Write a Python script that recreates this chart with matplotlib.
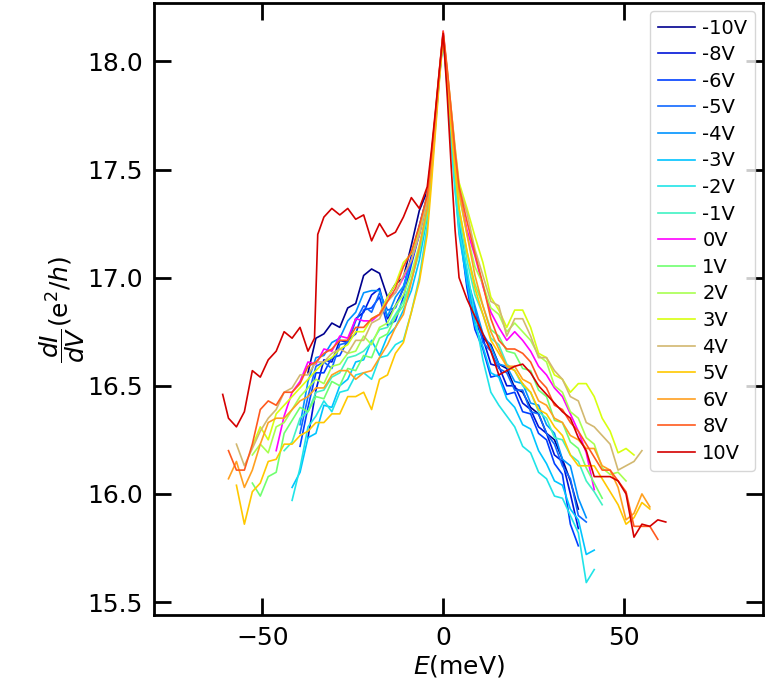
import numpy as np
import matplotlib
matplotlib.use("Agg")
import matplotlib.pyplot as plt

# shared energy grid (meV): coarse on the flanks, finer around the zero-bias peak
E_GRID = [-61.6, -59.4, -57.2, -55.0, -52.8, -50.6, -48.4, -46.2, -44.0, -41.8,
          -39.6, -37.4, -35.2, -33.0, -30.8, -28.6, -26.4, -24.2, -22.0, -19.8,
          -17.6, -15.4, -13.2, -11.0, -8.8, -6.6,
          -4.4, -3.3, -2.2, -1.1, 0.0, 1.1, 2.2, 3.3, 4.4,
          6.6, 8.8, 11.0, 13.2, 15.4, 17.6, 19.8, 22.0, 24.2, 26.4,
          28.6, 30.8, 33.0, 35.2, 37.4, 39.6, 41.8, 44.0, 46.2, 48.4,
          50.6, 52.8, 55.0, 57.2, 59.4, 61.6]

labels = ['-10V', '-8V', '-6V', '-5V', '-4V', '-3V', '-2V', '-1V', '0V',
          '1V', '2V', '3V', '4V', '5V', '6V', '8V', '10V']
colors = ['#00008f', '#0014d8', '#0040ff', '#1068ff', '#0094ff', '#00c4ff',
          '#20e4e8', '#40f2c4', '#ff00ff', '#70ff70', '#a8ff50', '#d8ff10',
          '#d2b870', '#ffc800', '#ffa020', '#ff5a1e', '#d40000']

# first energy of each trace (on E_GRID)
starts = [-37.4, -37.4, -39.6, -39.6, -39.6, -41.8, -41.8, -44.0, -46.2,
          -52.8, -52.8, -52.8, -57.2, -57.2, -59.4, -59.4, None]

g_m10 = [16.56, 16.72, 16.74, 16.79, 16.77, 16.86, 16.88, 17.01, 17.04, 17.02, 16.91, 16.97, 17.00, 17.15, 17.31,
         17.40, 17.55, 17.73, 17.93, 18.12, 17.92, 17.70, 17.48, 17.28,
         17.00, 16.85, 16.72, 16.69, 16.60, 16.58, 16.49, 16.47, 16.40, 16.37, 16.28, 16.25, 16.16, 16.06, 15.93]
g_m8 = [16.26, 16.48, 16.62, 16.61, 16.71, 16.70, 16.81, 16.84, 16.92, 16.95, 16.81, 16.87, 16.95, 17.10, 17.24,
        17.38, 17.54, 17.72, 17.93, 18.12, 17.92, 17.70, 17.47, 17.26,
        16.98, 16.80, 16.72, 16.60, 16.59, 16.50, 16.50, 16.42, 16.39, 16.31, 16.28, 16.18, 16.15, 16.00, 15.84]
g_m6 = [16.22, 16.40, 16.56, 16.56, 16.63, 16.64, 16.71, 16.74, 16.85, 16.86, 16.91, 16.78, 16.80, 16.91, 17.06, 17.20,
        17.35, 17.52, 17.72, 17.93, 18.12, 17.92, 17.70, 17.46, 17.24,
        16.95, 16.76, 16.67, 16.54, 16.55, 16.46, 16.47, 16.38, 16.37, 16.28, 16.25, 16.14, 16.09, 15.86, 15.76]
g_m5 = [16.28, 16.45, 16.59, 16.61, 16.58, 16.69, 16.70, 16.80, 16.87, 16.84, 16.93, 16.85, 16.86, 16.95, 17.08, 17.22,
        17.37, 17.53, 17.72, 17.93, 18.12, 17.92, 17.70, 17.47, 17.26,
        16.97, 16.85, 16.70, 16.66, 16.58, 16.56, 16.48, 16.48, 16.38, 16.37, 16.28, 16.23, 16.13, 16.07, 15.90, 15.87]
g_m4 = [16.32, 16.52, 16.63, 16.64, 16.70, 16.72, 16.80, 16.84, 16.93, 16.94, 16.94, 16.82, 16.91, 16.96, 17.08, 17.20,
        17.35, 17.52, 17.72, 17.93, 18.12, 17.93, 17.71, 17.49, 17.28,
        17.00, 16.87, 16.74, 16.68, 16.60, 16.59, 16.52, 16.51, 16.42, 16.41, 16.32, 16.28, 16.16, 16.13, 15.98, 15.89]
g_m3 = [16.03, 16.10, 16.26, 16.28, 16.41, 16.40, 16.50, 16.53, 16.61, 16.62, 16.71, 16.64, 16.73, 16.77, 16.85, 16.94, 17.08,
        17.28, 17.48, 17.70, 17.92, 18.11, 17.90, 17.66, 17.42, 17.20,
        16.98, 16.78, 16.68, 16.56, 16.54, 16.44, 16.40, 16.32, 16.30, 16.20, 16.14, 16.06, 16.04, 15.93, 15.88, 15.72, 15.74]
g_m2 = [15.97, 16.12, 16.31, 16.36, 16.43, 16.38, 16.47, 16.48, 16.55, 16.56, 16.53, 16.63, 16.64, 16.69, 16.71, 16.84, 17.00,
        17.24, 17.46, 17.68, 17.91, 18.11, 17.88, 17.62, 17.40, 17.22,
        17.04, 16.82, 16.62, 16.47, 16.41, 16.36, 16.31, 16.22, 16.19, 16.10, 16.07, 15.99, 15.98, 15.90, 15.82, 15.59, 15.65]
g_m1 = [16.20, 16.24, 16.35, 16.38, 16.47, 16.48, 16.54, 16.56, 16.63, 16.64, 16.66, 16.70, 16.76, 16.77, 16.83, 16.89, 16.99, 17.12,
        17.30, 17.50, 17.71, 17.92, 18.12, 17.91, 17.68, 17.46, 17.28,
        17.08, 16.92, 16.83, 16.72, 16.69, 16.60, 16.57, 16.50, 16.47, 16.38, 16.35, 16.26, 16.25, 16.18, 16.15, 16.06, 16.01, 15.95]
g_0 = [16.20, 16.36, 16.47, 16.52, 16.61, 16.60, 16.67, 16.66, 16.73, 16.72, 16.81, 16.80, 16.80, 16.83, 16.91, 16.93, 17.00, 17.08, 17.20,
       17.38, 17.55, 17.74, 17.94, 18.14, 17.95, 17.74, 17.55, 17.40,
       17.22, 17.10, 16.96, 16.84, 16.77, 16.71, 16.75, 16.71, 16.66, 16.59, 16.55, 16.49, 16.45, 16.37, 16.29, 16.19, 16.02]
g_1 = [16.05, 15.99, 16.08, 16.10, 16.28, 16.34, 16.40, 16.38, 16.45, 16.44, 16.52, 16.50, 16.58, 16.57, 16.64, 16.63, 16.72, 16.74, 16.82, 16.87, 16.99, 17.12,
       17.30, 17.50, 17.71, 17.92, 18.12, 17.93, 17.71, 17.50, 17.32,
       17.12, 16.97, 16.87, 16.76, 16.73, 16.66, 16.65, 16.58, 16.57, 16.48, 16.45, 16.34, 16.33, 16.24, 16.21, 16.12, 16.05, 15.98]
g_2 = [16.18, 16.23, 16.19, 16.31, 16.33, 16.39, 16.45, 16.49, 16.53, 16.51, 16.59, 16.60, 16.65, 16.66, 16.73, 16.69, 16.77, 16.79, 16.87, 16.92, 17.02, 17.15,
       17.33, 17.52, 17.72, 17.93, 18.12, 17.94, 17.74, 17.54, 17.38,
       17.20, 17.05, 16.97, 16.86, 16.83, 16.75, 16.79, 16.75, 16.71, 16.64, 16.61, 16.50, 16.47, 16.38, 16.35, 16.26, 16.23, 16.12, 16.09, 16.10, 16.06]
g_3 = [16.22, 16.31, 16.25, 16.37, 16.41, 16.45, 16.49, 16.53, 16.57, 16.61, 16.63, 16.67, 16.69, 16.75, 16.75, 16.81, 16.83, 16.91, 16.97, 17.07, 17.11, 17.22,
       17.38, 17.55, 17.74, 17.94, 18.12, 17.96, 17.78, 17.60, 17.44,
       17.32, 17.19, 17.07, 16.91, 16.85, 16.77, 16.85, 16.85, 16.77, 16.65, 16.63, 16.55, 16.53, 16.47, 16.51, 16.51, 16.45, 16.35, 16.29, 16.19, 16.21, 16.18]
g_4 = [16.23, 16.13, 16.21, 16.29, 16.35, 16.39, 16.47, 16.49, 16.55, 16.55, 16.61, 16.61, 16.65, 16.67, 16.65, 16.71, 16.71, 16.79, 16.81, 16.89, 16.93, 17.01, 17.08, 17.20,
       17.36, 17.54, 17.74, 17.94, 18.13, 17.96, 17.78, 17.60, 17.42,
       17.30, 17.13, 17.01, 16.89, 16.87, 16.73, 16.81, 16.81, 16.73, 16.63, 16.63, 16.57, 16.53, 16.45, 16.43, 16.33, 16.31, 16.27, 16.23, 16.11, 16.13, 16.15, 16.20]
g_5 = [16.04, 15.86, 16.01, 16.05, 16.15, 16.16, 16.23, 16.23, 16.27, 16.29, 16.33, 16.33, 16.37, 16.37, 16.45, 16.45, 16.47, 16.39, 16.53, 16.55, 16.65, 16.70, 16.84, 16.98,
       17.20, 17.42, 17.66, 17.90, 18.11, 17.92, 17.70, 17.50, 17.32,
       17.12, 16.95, 16.83, 16.71, 16.65, 16.59, 16.57, 16.51, 16.47, 16.39, 16.37, 16.31, 16.27, 16.18, 16.13, 16.13, 16.13, 16.07, 16.01, 15.95, 15.86, 15.89, 15.96, 15.93]
g_6 = [16.07, 16.15, 16.03, 16.11, 16.23, 16.33, 16.35, 16.35, 16.39, 16.43, 16.45, 16.49, 16.49, 16.55, 16.57, 16.57, 16.53, 16.56, 16.57, 16.63, 16.69, 16.77, 16.83, 16.98, 17.14,
       17.32, 17.50, 17.70, 17.92, 18.12, 17.94, 17.74, 17.56, 17.40,
       17.20, 17.01, 16.87, 16.75, 16.67, 16.59, 16.59, 16.53, 16.51, 16.43, 16.41, 16.35, 16.33, 16.27, 16.25, 16.21, 16.21, 16.13, 16.11, 16.03, 15.88, 15.91, 16.00, 15.94]
g_8 = [16.20, 16.11, 16.11, 16.23, 16.39, 16.43, 16.41, 16.47, 16.47, 16.51, 16.59, 16.61, 16.65, 16.67, 16.71, 16.71, 16.77, 16.77, 16.81, 16.83, 16.89, 16.95, 17.05, 17.12, 17.24,
       17.38, 17.56, 17.75, 17.95, 18.14, 17.97, 17.78, 17.58, 17.42,
       17.26, 17.11, 16.97, 16.81, 16.71, 16.67, 16.67, 16.65, 16.61, 16.53, 16.49, 16.41, 16.39, 16.33, 16.29, 16.23, 16.17, 16.11, 16.11, 16.06, 16.01, 15.85, 15.85, 15.85, 15.79]

# 10V has its own energies, it has a sharp step near -35 meV
e_10 = [-61.0, -59.4, -57.2, -55.0, -52.8, -50.6, -48.4, -46.2, -44.0, -41.8,
        -39.6, -37.4, -35.6, -34.7, -33.0, -30.8, -28.6, -26.4, -24.2, -22.0,
        -19.8, -17.6, -15.4, -13.2, -11.0, -8.8, -6.6,
        -4.4, -3.3, -2.2, -1.1, 0.0, 1.1, 2.2, 3.3, 4.4,
        6.6, 8.8, 11.0, 13.2, 15.4, 17.6, 19.8, 22.0, 24.2, 26.4,
        28.6, 30.8, 33.0, 35.2, 37.4, 39.6, 41.8, 44.0, 46.2, 48.4,
        50.6, 52.8, 55.0, 57.2, 59.4, 61.6]
g_10 = [16.46, 16.35, 16.31, 16.38, 16.57, 16.54, 16.62, 16.66, 16.75, 16.72, 16.77, 16.66, 16.72, 17.20, 17.28, 17.32,
        17.29, 17.32, 17.27, 17.29, 17.17, 17.25, 17.19, 17.21, 17.28, 17.37, 17.32,
        17.42, 17.58, 17.76, 17.95, 18.13, 17.85, 17.52, 17.22, 17.00,
        16.90, 16.82, 16.74, 16.66, 16.55, 16.57, 16.59, 16.60, 16.56, 16.50, 16.46, 16.42, 16.38, 16.35, 16.26,
        16.20, 16.08, 16.08, 16.08, 16.06, 16.00, 15.80, 15.86, 15.85, 15.88, 15.87]

series = [g_m10, g_m8, g_m6, g_m5, g_m4, g_m3, g_m2, g_m1, g_0,
          g_1, g_2, g_3, g_4, g_5, g_6, g_8, g_10]

fig = plt.figure(figsize=(7.69, 6.95), dpi=100)
ax = fig.add_axes([0.2003, 0.1151, 0.7919, 0.8806])

for lab, col, st, g in zip(labels, colors, starts, series):
    if st is None:
        e = e_10
    else:
        i0 = E_GRID.index(st)
        e = E_GRID[i0:i0 + len(g)]
    ax.plot(e, g, color=col, lw=1.2, label=lab)

ax.set_xlim(-80, 88.5)
ax.set_ylim(15.44, 18.27)
ax.set_xticks([-50, 0, 50])
ax.set_yticks([15.5, 16.0, 16.5, 17.0, 17.5, 18.0])
ax.set_yticklabels(['15.5', '16.0', '16.5', '17.0', '17.5', '18.0'])
ax.tick_params(direction='in', length=12, width=2, labelsize=18,
               top=True, right=True, pad=8)
for sp in ax.spines.values():
    sp.set_linewidth(2)

ax.set_xlabel('$E$(meV)', fontsize=18, labelpad=2)
ax.set_ylabel(r'$\dfrac{dI}{dV}(\mathrm{e}^2/h)$', fontsize=18, labelpad=0)

ax.legend(loc='upper right', fontsize=14, labelspacing=0.39, handlelength=1.9,
          borderaxespad=0.4, handletextpad=0.4)

fig.savefig('out.png', dpi=100)
